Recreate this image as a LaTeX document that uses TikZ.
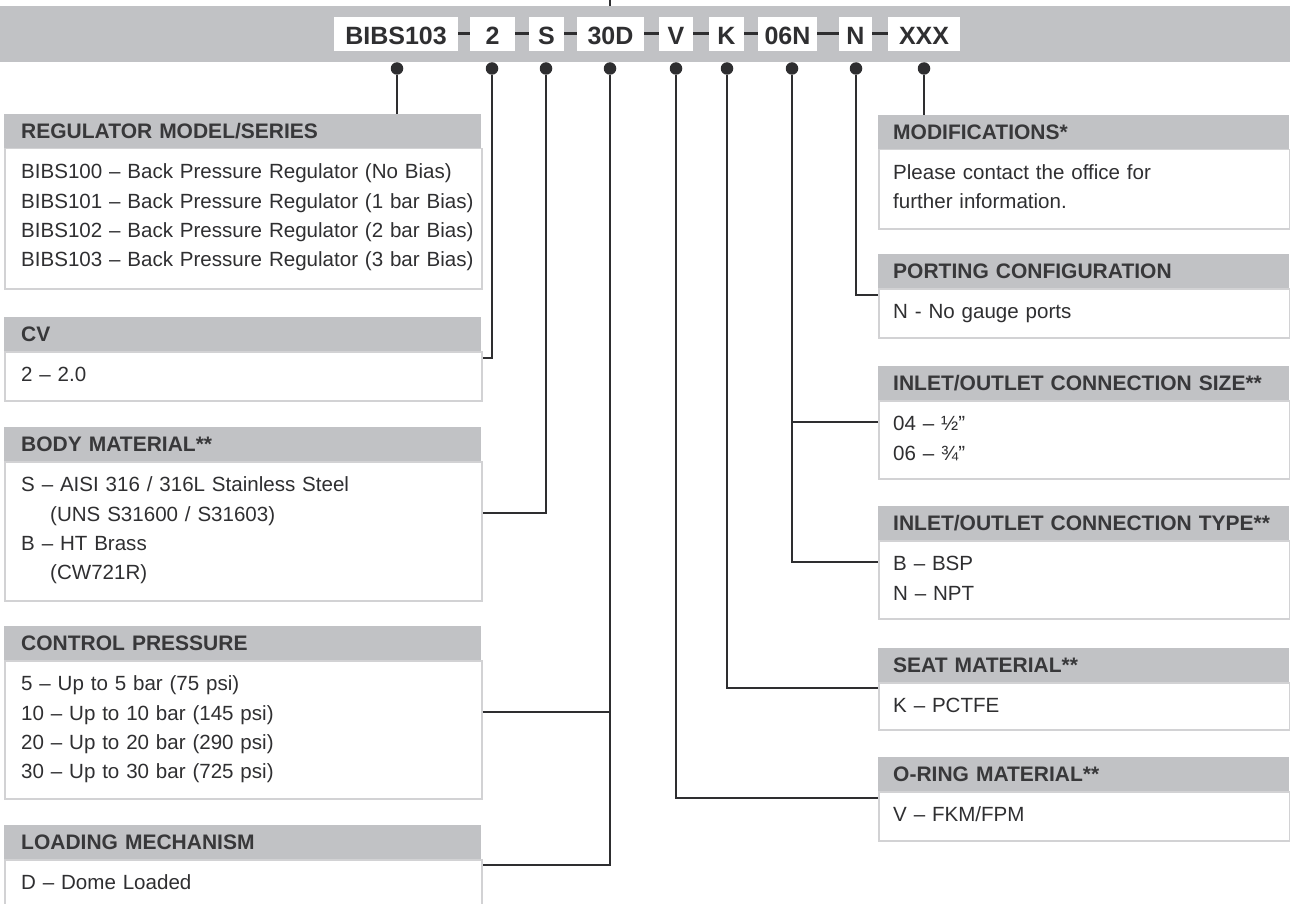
\documentclass[tikz,border=0pt]{standalone}
\usepackage{fontspec}
\setmainfont{Liberation Sans}
\usetikzlibrary{calc}
\definecolor{bargray}{HTML}{C1C2C5}
\definecolor{txt}{HTML}{2F2F31}
\definecolor{hdrtxt}{HTML}{38383A}
\definecolor{bord}{HTML}{D2D2D4}
\definecolor{linec}{HTML}{2E2E30}
\begin{document}
\begin{tikzpicture}[x=1pt,y=-1pt,
  codebox/.style={fill=white, minimum height=34pt, inner sep=0pt, text height=21pt, text depth=0pt, text=txt, font=\bfseries\fontsize{25}{25}\selectfont},
  hdr/.style={fill=bargray, anchor=north west, minimum height=34pt, inner ysep=0pt, text height=15pt, text depth=0pt, align=left, text=hdrtxt, font=\bfseries\fontsize{21}{21}\selectfont},
  hdrL/.style={hdr, inner xsep=17pt, text width=443pt},
  hdrR/.style={hdr, inner xsep=15pt, text width=381pt},
  bodybox/.style={draw=bord, line width=1.5pt, fill=white, anchor=north west, inner sep=0pt},
  bodyL/.style={bodybox, minimum width=477pt},
  bodyR/.style={bodybox, minimum width=411pt},
  bodytxt/.style={anchor=north west, inner sep=0pt, align=left, text width=460pt, text=txt, font=\fontsize{20.55}{29.3}\selectfont},
  dot/.style={circle, fill=linec, minimum size=12.5pt, inner sep=0pt},
  conn/.style={draw=linec, line width=1.4pt},
  link/.style={draw=linec, line width=3pt}
]
\def\bs{\rule{0pt}{20pt}}
\useasboundingbox (0,0) rectangle (1290,904);

% top bar
\node[fill=bargray, anchor=north west, minimum width=1290pt, minimum height=56pt, inner sep=0pt] (bar) at (0,6) {};
\coordinate (topstub) at (610,0);
\draw[conn] (topstub) -- (topstub |- bar.north);

% code boxes
\node[codebox, minimum width=124pt] (c1) at (396,34) {BIBS103};
\node[codebox, minimum width=45pt]  (c2) at (492.5,34) {2};
\node[codebox, minimum width=35pt]  (c3) at (546.5,34) {S};
\node[codebox, minimum width=67pt]  (c4) at (610.5,34) {30D};
\node[codebox, minimum width=34pt]  (c5) at (676,34) {V};
\node[codebox, minimum width=35pt]  (c6) at (726.5,34) {K};
\node[codebox, minimum width=59pt]  (c7) at (787.5,34) {06N};
\node[codebox, minimum width=33pt]  (c8) at (855.5,34) {N};
\node[codebox, minimum width=72pt]  (c9) at (924,34) {XXX};
\foreach \a/\b in {c1/c2,c2/c3,c3/c4,c4/c5,c5/c6,c6/c7,c7/c8,c8/c9}
  \draw[link] (\a) -- (\b);

% dots
\node[dot] (d1) at (397,68.5) {};
\node[dot] (d2) at (492,68.5) {};
\node[dot] (d3) at (546,68.5) {};
\node[dot] (d4) at (610,68.5) {};
\node[dot] (d5) at (676,68.5) {};
\node[dot] (d6) at (727,68.5) {};
\node[dot] (d7) at (792,68.5) {};
\node[dot] (d8) at (856,68.5) {};
\node[dot] (d9) at (924,68.5) {};

% ---------- left boxes ----------
\node[bodyL, minimum height=140pt] (regB) at (4,148) {};
\node[hdrL] (regH) at (4,114) {REGULATOR MODEL/SERIES};
\node[bodytxt] (regT) at (21,158.5) {\bs BIBS100 – Back Pressure Regulator (No Bias)\\BIBS101 – Back Pressure Regulator (1 bar Bias)\\BIBS102 – Back Pressure Regulator (2 bar Bias)\\BIBS103 – Back Pressure Regulator (3 bar Bias)};

\node[bodyL, minimum height=49pt] (cvB) at (4,351) {};
\node[hdrL] (cvH) at (4,317) {CV};
\node[bodytxt] (cvT) at (21,361.5) {\bs 2 – 2.0};

\node[bodyL, minimum height=139pt] (bmB) at (4,461) {};
\node[hdrL] (bmH) at (4,427) {BODY MATERIAL**};
\node[bodytxt] (bmT) at (21,471.5) {\bs S – AISI 316 / 316L Stainless Steel\\\hspace*{29pt}(UNS S31600 / S31603)\\B – HT Brass\\\hspace*{29pt}(CW721R)};

\node[bodyL, minimum height=138pt] (ctB) at (4,660) {};
\node[hdrL] (ctH) at (4,626) {CONTROL PRESSURE};
\node[bodytxt] (ctT) at (21,670.5) {\bs 5 – Up to 5 bar (75 psi)\\10 – Up to 10 bar (145 psi)\\20 – Up to 20 bar (290 psi)\\30 – Up to 30 bar (725 psi)};

\node[bodyL, minimum height=70pt] (ldB) at (4,859) {};
\node[hdrL] (ldH) at (4,825) {LOADING MECHANISM};
\node[bodytxt] (ldT) at (21,869.5) {\bs D – Dome Loaded};

% ---------- right boxes ----------
\node[bodyR, minimum height=79pt] (moB) at (878,149) {};
\node[hdrR] (moH) at (878,115) {MODIFICATIONS*};
\node[bodytxt] (moT) at (893,159.5) {\bs Please contact the office for\\further information.};

\node[bodyR, minimum height=49pt] (poB) at (878,288) {};
\node[hdrR] (poH) at (878,254) {PORTING CONFIGURATION};
\node[bodytxt] (poT) at (893,298.5) {\bs N - No gauge ports};

\node[bodyR, minimum height=78pt] (szB) at (878,400) {};
\node[hdrR] (szH) at (878,366) {INLET/OUTLET CONNECTION SIZE**};
\node[bodytxt] (szT) at (893,410.5) {\bs 04 – ½”\\06 – ¾”};

\node[bodyR, minimum height=78pt] (tyB) at (878,540) {};
\node[hdrR] (tyH) at (878,506) {INLET/OUTLET CONNECTION TYPE**};
\node[bodytxt] (tyT) at (893,550.5) {\bs B – BSP\\N – NPT};

\node[bodyR, minimum height=47pt] (seB) at (878,682) {};
\node[hdrR] (seH) at (878,648) {SEAT MATERIAL**};
\node[bodytxt] (seT) at (893,692.5) {\bs K – PCTFE};

\node[bodyR, minimum height=49pt] (orB) at (878,791) {};
\node[hdrR] (orH) at (878,757) {O-RING MATERIAL**};
\node[bodytxt] (orT) at (893,801.5) {\bs V – FKM/FPM};

% ---------- connectors ----------
\coordinate (cvIn) at ($(cvB.north east)+(0,7)$);
\coordinate (bmIn) at ($(bmB.north east)+(0,52)$);
\coordinate (ctIn) at ($(ctB.north east)+(0,52)$);
\coordinate (ldIn) at ($(ldB.north east)+(0,6)$);
\coordinate (poIn) at ($(poB.north west)+(0,7)$);
\coordinate (szIn) at ($(szB.north west)+(0,22)$);
\coordinate (tyIn) at ($(tyB.north west)+(0,22)$);
\coordinate (seIn) at ($(seB.north west)+(0,6)$);
\coordinate (orIn) at ($(orB.north west)+(0,7)$);

\draw[conn] (d1) -- (d1 |- regH.north);
\draw[conn] (d2) |- (cvIn);
\draw[conn] (d3) |- (bmIn);
\draw[conn] (d4) |- (ldIn);
\draw[conn] (ctIn) -- (ctIn -| d4);
\draw[conn] (d5) |- (orIn);
\draw[conn] (d6) |- (seIn);
\draw[conn] (d7) |- (tyIn);
\draw[conn] (szIn) -- (szIn -| d7);
\draw[conn] (d8) |- (poIn);
\draw[conn] (d9) -- (d9 |- moH.north);
\end{tikzpicture}
\end{document}
